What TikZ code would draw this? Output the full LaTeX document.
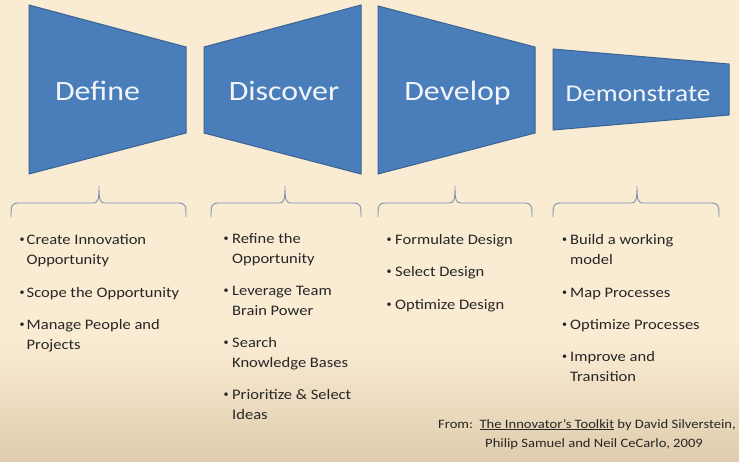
\documentclass[tikz,border=0pt]{standalone}
\usepackage{fontspec}
\setmainfont{Carlito}
\usepackage{graphicx}
\definecolor{bgtop}{HTML}{FAEBD3}
\definecolor{bgbot}{HTML}{E0CDAE}
\definecolor{shapefill}{HTML}{4A7EBB}
\definecolor{shapeline}{HTML}{3B6494}
\definecolor{bracec}{HTML}{7D93B0}
\definecolor{txt}{HTML}{262626}
\definecolor{ttl}{HTML}{F2F4FA}
\newcommand{\sx}[1]{\scalebox{1.14}[1]{#1}}
\tikzset{
  stage/.style={fill=shapefill,draw=shapeline,line width=1pt,line join=miter},
  ttlbig/.style={text=ttl,inner sep=0,anchor=base,font=\fontsize{28}{30}\selectfont},
  ttlsmall/.style={text=ttl,inner sep=0,anchor=base,font=\fontsize{24}{26}\selectfont},
  brc/.style={draw=bracec,line width=0.9pt},
  ln/.style={text=txt,inner sep=0,anchor=base west,font=\fontsize{14.5}{20}\selectfont},
  bul/.style={text=txt,inner sep=0,anchor=base west,font=\fontsize{10}{12}\selectfont},
  cite/.style={text=txt,inner sep=0,anchor=base west,font=\fontsize{12.8}{14}\selectfont},
}
\begin{document}
\begin{tikzpicture}[x=1pt,y=-1pt]
\useasboundingbox (0,0) rectangle (739,461);
\fill[bgtop] (0,0) rectangle (739,461);
\shade[top color=bgtop,bottom color=bgbot] (0,340) rectangle (739,461);
% stages
\draw[stage] (29,5) -- (186,47) -- (186,133) -- (29,174) -- cycle;
\draw[stage] (204,47) -- (361,5) -- (361,174) -- (204,133) -- cycle;
\draw[stage] (378,6) -- (535,47) -- (535,133) -- (378,174) -- cycle;
\draw[stage] (553,49) -- (729,64) -- (729,115) -- (553,130) -- cycle;
\node[ttlbig] (tdef) at (97.5,100) {\sx{Define}};
\node[ttlbig] (tdis) at (284,100) {\sx{Discover}};
\node[ttlbig] (tdev) at (457.5,100) {\sx{Develop}};
\node[ttlsmall] (tdem) at (638,101) {\sx{Demonstrate}};
% braces
\foreach \a/\t/\b in {11/99/186, 211/285/361, 378/455/532, 553/637/719}{
  \draw[brc] (\a,217) .. controls (\a,206) and (\a,203) .. (\a+8,203) -- (\t-6,203)
    .. controls (\t-1,203) and (\t,200) .. (\t,186)
    .. controls (\t,200) and (\t+1,203) .. (\t+6,203) -- (\b-8,203)
    .. controls (\b,203) and (\b,206) .. (\b,217);
}
% Define list
\node[bul] (d1b) at (19.5,242.5) {•};
\node[ln] (d1a) at (26.5,244) {\sx{Create Innovation}};
\node[ln] (d1c) at (26.5,264) {\sx{Opportunity}};
\node[bul] (d2b) at (19.5,295.5) {•};
\node[ln] (d2a) at (26.5,297) {\sx{Scope the Opportunity}};
\node[bul] (d3b) at (19.5,327.5) {•};
\node[ln] (d3a) at (26.5,329) {\sx{Manage People and}};
\node[ln] (d3c) at (26.5,349) {\sx{Projects}};
% Discover list
\node[bul] (s1b) at (223.5,241.5) {•};
\node[ln] (s1a) at (232,243) {\sx{Refine the}};
\node[ln] (s1c) at (232,263) {\sx{Opportunity}};
\node[bul] (s2b) at (223.5,293.5) {•};
\node[ln] (s2a) at (232,295) {\sx{Leverage Team}};
\node[ln] (s2c) at (232,315) {\sx{Brain Power}};
\node[bul] (s3b) at (223.5,345.5) {•};
\node[ln] (s3a) at (232,347) {\sx{Search}};
\node[ln] (s3c) at (232,367) {\sx{Knowledge Bases}};
\node[bul] (s4b) at (223.5,397.5) {•};
\node[ln] (s4a) at (232,399) {\sx{Prioritize \& Select}};
\node[ln] (s4c) at (232,419) {\sx{Ideas}};
% Develop list
\node[bul] (v1b) at (386.5,242.5) {•};
\node[ln] (v1a) at (395,244) {\sx{Formulate Design}};
\node[bul] (v2b) at (386.5,274.5) {•};
\node[ln] (v2a) at (395,276) {\sx{Select Design}};
\node[bul] (v3b) at (386.5,307.5) {•};
\node[ln] (v3a) at (395,309) {\sx{Optimize Design}};
% Demonstrate list
\node[bul] (m1b) at (562,242.5) {•};
\node[ln] (m1a) at (570,244) {\sx{Build a working}};
\node[ln] (m1c) at (570,264) {\sx{model}};
\node[bul] (m2b) at (562,295.5) {•};
\node[ln] (m2a) at (570,297) {\sx{Map Processes}};
\node[bul] (m3b) at (562,327.5) {•};
\node[ln] (m3a) at (570,329) {\sx{Optimize Processes}};
\node[bul] (m4b) at (562,359.5) {•};
\node[ln] (m4a) at (570,361) {\sx{Improve and}};
\node[ln] (m4c) at (570,381) {\sx{Transition}};
% citation
\node[cite] (c1) at (438,428) {\sx{From:\ \ \underline{The Innovator’s Toolkit} by David Silverstein,}};
\node[cite] (c2) at (485,447) {\sx{Philip Samuel and Neil CeCarlo, 2009}};
\end{tikzpicture}
\end{document}
